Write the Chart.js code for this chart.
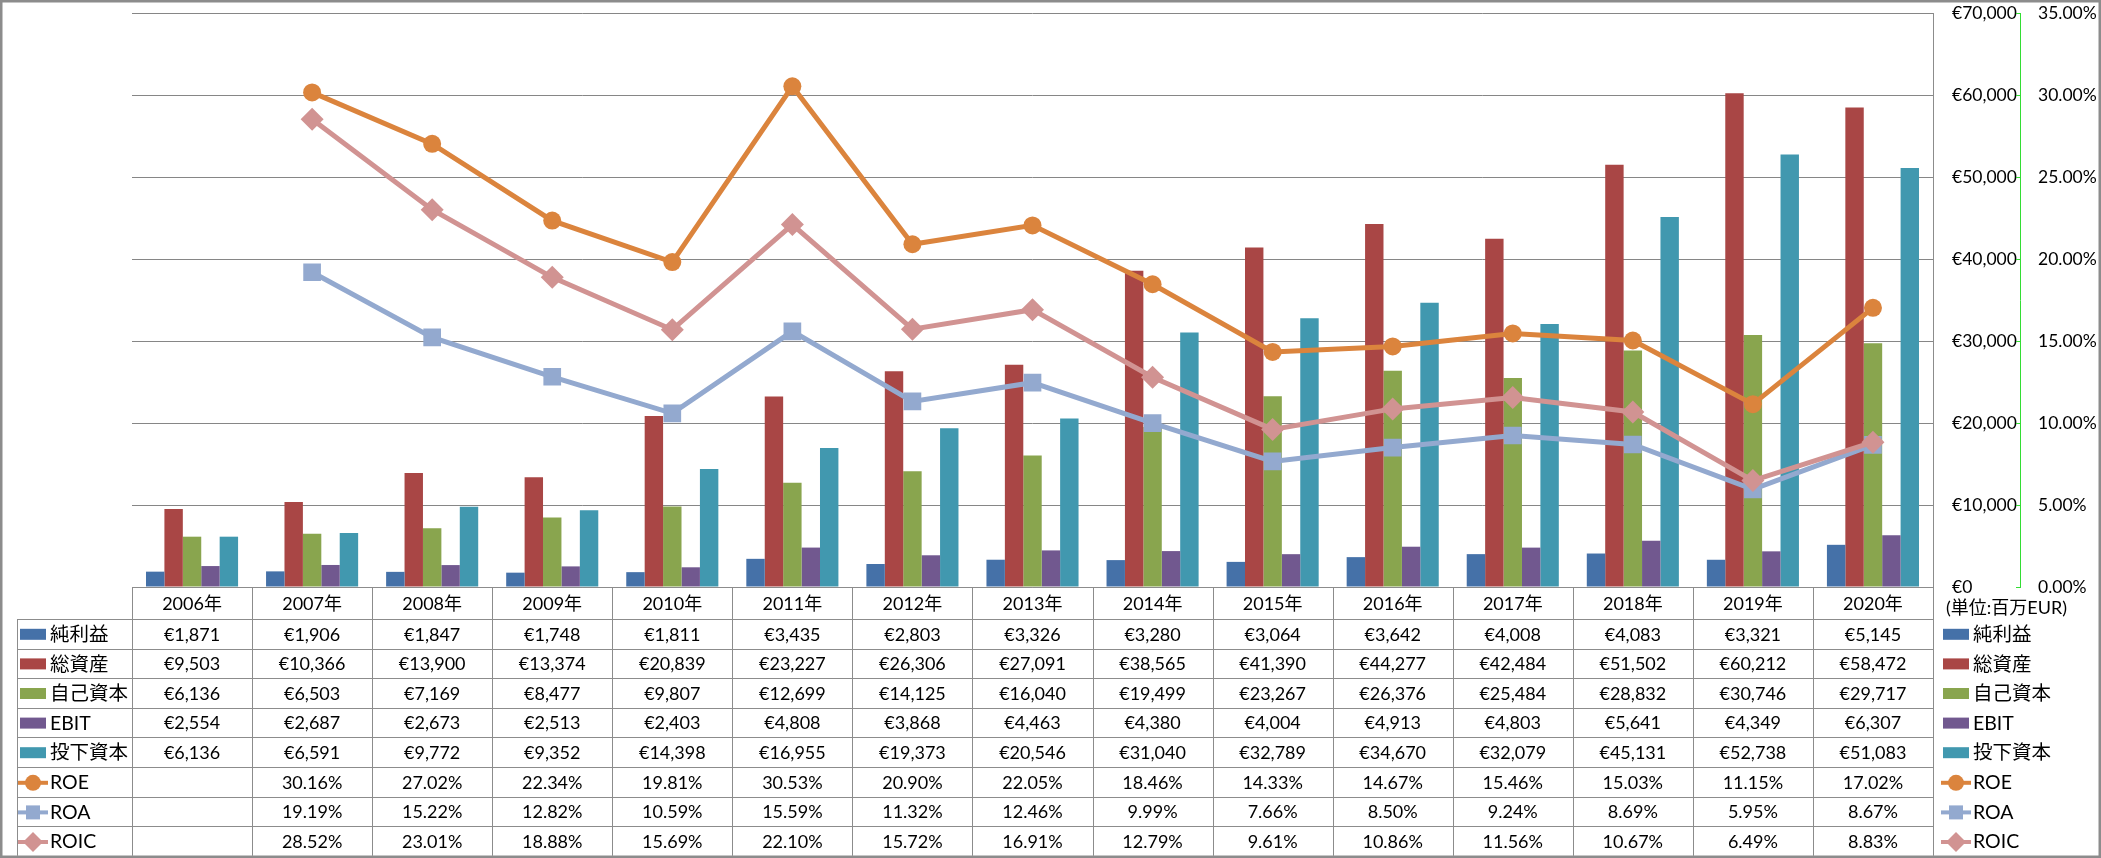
<!DOCTYPE html>
<html>
<head>
<meta charset="utf-8">
<script src="https://cdn.jsdelivr.net/npm/chart.js@4"></script>
<style>
  body { margin: 0; background: #fff; }
  canvas { display: block; }
</style>
</head>
<body>
<canvas id="finChart" width="2101" height="858"></canvas>
<script>
//Data
const years = ['2006年', '2007年', '2008年', '2009年', '2010年', '2011年', '2012年', '2013年',
  '2014年', '2015年', '2016年', '2017年', '2018年', '2019年', '2020年'];
const netIncome = [1871, 1906, 1847, 1748, 1811, 3435, 2803, 3326, 3280, 3064, 3642, 4008, 4083, 3321, 5145];
const totalAssets = [9503, 10366, 13900, 13374, 20839, 23227, 26306, 27091, 38565, 41390, 44277, 42484, 51502, 60212, 58472];
const equity = [6136, 6503, 7169, 8477, 9807, 12699, 14125, 16040, 19499, 23267, 26376, 25484, 28832, 30746, 29717];
const ebit = [2554, 2687, 2673, 2513, 2403, 4808, 3868, 4463, 4380, 4004, 4913, 4803, 5641, 4349, 6307];
const investedCap = [6136, 6591, 9772, 9352, 14398, 16955, 19373, 20546, 31040, 32789, 34670, 32079, 45131, 52738, 51083];
const roe = [null, 30.16, 27.02, 22.34, 19.81, 30.53, 20.90, 22.05, 18.46, 14.33, 14.67, 15.46, 15.03, 11.15, 17.02];
const roa = [null, 19.19, 15.22, 12.82, 10.59, 15.59, 11.32, 12.46, 9.99, 7.66, 8.50, 9.24, 8.69, 5.95, 8.67];
const roic = [null, 28.52, 23.01, 18.88, 15.69, 22.10, 15.72, 16.91, 12.79, 9.61, 10.86, 11.56, 10.67, 6.49, 8.83];
const unitLabel = '(単位:百万EUR)';

const FONT = '"Lato", "Noto Sans CJK JP", sans-serif';
const gridGray = '#868686';
const axisGreen = '#33dd33';

const fmtEur = v => '€' + v.toLocaleString('en-US');
const fmtPct = v => v == null ? '' : v.toFixed(2) + '%';

function barSet(label, data, color) {
  return { type: 'bar', label, data, backgroundColor: color, yAxisID: 'y', order: 10,
    barPercentage: 1, categoryPercentage: 0.767 };
}
function lineSet(label, data, color, style, radius, order) {
  return { type: 'line', label, data, borderColor: color, backgroundColor: color,
    borderWidth: 5, pointStyle: style, pointRadius: radius, pointHoverRadius: radius,
    pointBorderWidth: 0, yAxisID: 'y1', order, tension: 0, spanGaps: false };
}

const datasets = [
  barSet('純利益', netIncome, '#4571A8'),
  barSet('総資産', totalAssets, '#A94645'),
  barSet('自己資本', equity, '#89A54E'),
  barSet('EBIT', ebit, '#71588F'),
  barSet('投下資本', investedCap, '#4198AF'),
  lineSet('ROE', roe, '#DB843D', 'circle', 9, 3),
  lineSet('ROA', roa, '#93A9CF', 'rect', 12.5, 2),
  lineSet('ROIC', roic, '#D19392', 'rectRot', 11.5, 1)
];

//Marker for legend keys
function drawKey(ctx, ds, x, y) {
  if (ds.type === 'bar') {
    ctx.fillStyle = ds.backgroundColor;
    ctx.fillRect(x, y - 6, 26, 11);
    return;
  }
  ctx.strokeStyle = ds.borderColor;
  ctx.lineWidth = 4;
  ctx.beginPath();
  ctx.moveTo(x - 2, y);
  ctx.lineTo(x + 28, y);
  ctx.stroke();
  ctx.fillStyle = ds.borderColor;
  const cx = x + 13;
  if (ds.pointStyle === 'circle') {
    ctx.beginPath();
    ctx.arc(cx, y, 8, 0, Math.PI * 2);
    ctx.fill();
  } else if (ds.pointStyle === 'rect') {
    ctx.fillRect(cx - 7, y - 7, 14, 14);
  } else {
    ctx.beginPath();
    ctx.moveTo(cx, y - 10);
    ctx.lineTo(cx + 10, y);
    ctx.lineTo(cx, y + 10);
    ctx.lineTo(cx - 10, y);
    ctx.closePath();
    ctx.fill();
  }
}

//Data table under the plot
const tablePlugin = {
  id: 'dataTable',
  afterDraw(chart) {
    const ctx = chart.ctx;
    const x = chart.scales.x;
    const y1 = chart.scales.y1;
    const area = chart.chartArea;
    const colW = x.width / years.length;
    const headTop = area.bottom;
    const headH = 32;
    const rowH = 29.6;
    const tblBottom = headTop + headH + rowH * datasets.length;
    const legLeft = 17;
    const p = v => Math.round(v) + 0.5;
    const numFont = '18px ' + FONT;
    const txtFont = '19.5px ' + FONT;

    ctx.save();
    ctx.strokeStyle = '#8c8c8c';
    ctx.lineWidth = 1;
    ctx.beginPath();
    ctx.moveTo(area.left, p(headTop));
    ctx.lineTo(area.right, p(headTop));
    for (let r = 0; r <= datasets.length; r++) {
      const yy = p(headTop + headH + r * rowH);
      ctx.moveTo(legLeft, yy);
      ctx.lineTo(area.right, yy);
    }
    for (let c = 0; c <= years.length; c++) {
      const xx = p(area.left + c * colW);
      ctx.moveTo(xx, p(headTop));
      ctx.lineTo(xx, tblBottom);
    }
    ctx.moveTo(p(legLeft), headTop + headH);
    ctx.lineTo(p(legLeft), tblBottom);
    ctx.moveTo(p(area.right), area.top);
    ctx.lineTo(p(area.right), headTop);
    ctx.stroke();

    // small ticks on the % axis line
    ctx.strokeStyle = axisGreen;
    ctx.beginPath();
    y1.ticks.forEach(t => {
      const ty = p(y1.getPixelForValue(t.value));
      ctx.moveTo(y1.left - 4, ty);
      ctx.lineTo(y1.left, ty);
    });
    ctx.stroke();

    ctx.fillStyle = '#000';
    ctx.font = numFont;
    ctx.textAlign = 'center';
    ctx.textBaseline = 'middle';
    years.forEach((yr, i) => {
      ctx.fillText(yr, x.getPixelForValue(i), headTop + headH / 2 + 1);
    });

    datasets.forEach((ds, r) => {
      const cy = headTop + headH + r * rowH + rowH / 2 + 1;
      ctx.font = numFont;
      ds.data.forEach((v, i) => {
        ctx.fillStyle = '#000';
        ctx.textAlign = 'center';
        ctx.fillText(ds.type === 'bar' ? fmtEur(v) : fmtPct(v), x.getPixelForValue(i), cy);
      });
      ctx.font = txtFont;
      drawKey(ctx, ds, 20, cy);
      ctx.fillStyle = '#000';
      ctx.textAlign = 'left';
      ctx.fillText(ds.label, 50, cy);
      drawKey(ctx, ds, 1943, cy);
      ctx.fillStyle = '#000';
      ctx.fillText(ds.label, 1973, cy);
    });

    ctx.textAlign = 'left';
    ctx.font = '18px ' + FONT;
    ctx.fillText(unitLabel, 1946, headTop + 21);

    ctx.strokeStyle = '#8c8c8c';
    ctx.strokeRect(0.5, 0.5, chart.width - 1, chart.height - 1);
    ctx.restore();
  }
};

new Chart(document.getElementById('finChart'), {
  data: { labels: years, datasets },
  options: {
    responsive: false,
    animation: false,
    layout: { padding: { left: 132, top: 13, right: 0, bottom: 271 } },
    plugins: { legend: { display: false }, tooltip: { enabled: false } },
    scales: {
      x: { display: false, offset: true },
      y: {
        position: 'right', min: 0, max: 70000,
        ticks: { stepSize: 10000, padding: 0, color: '#000', font: { family: FONT, size: 17.5 },
          callback: v => fmtEur(v) },
        grid: { color: gridGray, drawTicks: true, tickLength: 19, tickColor: 'transparent' },
        border: { display: true, color: gridGray },
        afterFit: s => { s.width = 87; }
      },
      y1: {
        position: 'right', min: 0, max: 35,
        ticks: { stepSize: 5, padding: 0, color: '#000', font: { family: FONT, size: 17.5 },
          callback: v => v.toFixed(2) + '%' },
        grid: { drawOnChartArea: false, drawTicks: true, tickLength: 18, tickColor: 'transparent' },
        border: { display: true, color: axisGreen, dash: [5, 4] },
        afterFit: s => { s.width = 81; }
      }
    }
  },
  plugins: [tablePlugin]
});
</script>
</body>
</html>
